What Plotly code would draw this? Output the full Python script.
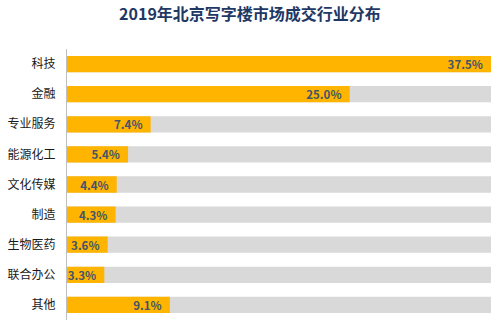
import plotly.graph_objects as go

# Industry shares of Beijing office leasing transactions, 2019
categories = ["科技", "金融", "专业服务", "能源化工", "文化传媒", "制造", "生物医药", "联合办公", "其他"]
shares = [37.5, 25.0, 7.4, 5.4, 4.4, 4.3, 3.6, 3.3, 9.1]
full_scale = 37.5

font_family = "Noto Sans CJK SC, Noto Sans, sans-serif"

fig = go.Figure()

# grey track behind each bar
fig.add_trace(go.Bar(
    y=categories,
    x=[full_scale] * len(categories),
    orientation="h",
    marker=dict(color="#D9D9D9", line=dict(width=0)),
    hoverinfo="skip",
    showlegend=False,
))

# share bars with value labels at the inner end
fig.add_trace(go.Bar(
    y=categories,
    x=shares,
    orientation="h",
    marker=dict(color="#FFB400", line=dict(width=0)),
    texttemplate="%{x:.1f}%  ",
    textposition="inside",
    insidetextanchor="end",
    textangle=0,
    textfont=dict(family=font_family, size=11.5, color="#44546A", weight="bold"),
    constraintext="none",
    showlegend=False,
))

fig.update_layout(
    width=500,
    height=323,
    barmode="overlay",
    bargap=0.46,
    plot_bgcolor="white",
    paper_bgcolor="white",
    margin=dict(l=67, r=9, t=49, b=3),
    title=dict(
        text="<b>2019年北京写字楼市场成交行业分布</b>",
        x=0.5,
        xanchor="center",
        y=0.955,
        yanchor="middle",
        font=dict(family=font_family, size=16, color="#1F3864"),
    ),
    xaxis=dict(
        range=[0, full_scale],
        visible=False,
        fixedrange=True,
    ),
    yaxis=dict(
        autorange="reversed",
        showline=True,
        linecolor="#BFBFBF",
        linewidth=1,
        ticks="",
        showgrid=False,
        ticklabelstandoff=8,
        tickfont=dict(family=font_family, size=12, color="#1A1A1A"),
        fixedrange=True,
    ),
    uniformtext=dict(mode=False),
)

fig.write_html("out.html")
